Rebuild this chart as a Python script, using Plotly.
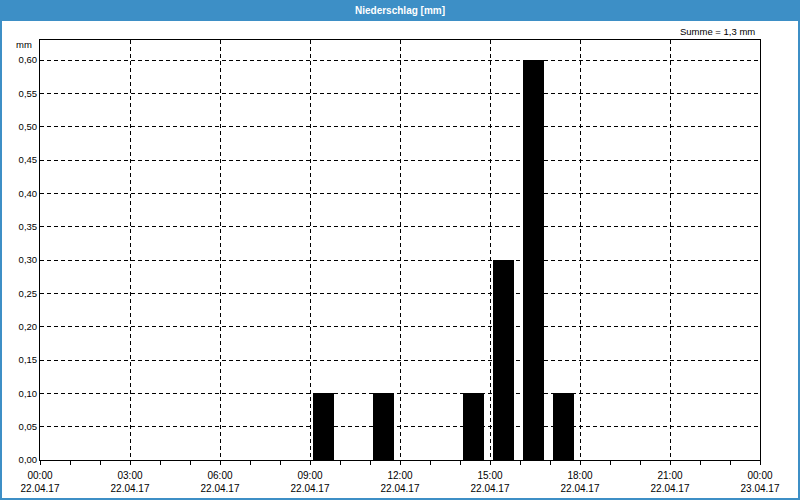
import plotly.graph_objects as go

# data
bar_start_times = ["2017-04-22 09:00", "2017-04-22 11:00", "2017-04-22 14:00",
                   "2017-04-22 15:00", "2017-04-22 16:00", "2017-04-22 17:00"]
precip_mm = [0.10, 0.10, 0.10, 0.30, 0.60, 0.10]
x_range = ["2017-04-22 00:00", "2017-04-23 00:00"]
y_range = [0, 0.63]
title_text = "Niederschlag [mm]"
y_unit = "mm"

H = 3600000  # one hour in ms
BLUE = "#3d8fc6"
FONT = "Liberation Sans"

W, HGT = 800, 500
L, R, T, B = 40, 40, 40, 40
pw, ph = W - L - R, HGT - T - B


def px(x):
    return (x - L) / pw


def py(y):
    return (HGT - B - y) / ph


total = sum(precip_mm)
sum_text = "Summe = " + f"{total:.1f}".replace(".", ",") + " mm"

fig = go.Figure()
fig.add_trace(go.Bar(
    x=bar_start_times, y=precip_mm,
    width=[0.7 * H] * len(precip_mm), offset=0.1 * H,
    marker=dict(color="black", line=dict(width=0)),
    hoverinfo="x+y",
))

fig.update_layout(
    width=W, height=HGT,
    margin=dict(l=L, r=R, t=T, b=B, pad=0, autoexpand=False),
    paper_bgcolor="white", plot_bgcolor="white",
    separators=",.",
    showlegend=False,
    bargap=0,
    font=dict(family=FONT, size=10, color="black"),
    xaxis=dict(
        type="date", range=x_range, dtick=3 * H, tick0=x_range[0],
        tickformat="%H:%M<br>%d.%m.%y",
        showgrid=True, gridcolor="black", griddash="4px,3px", gridwidth=1,
        showline=True, linecolor="black", linewidth=1, mirror=True,
        ticks="outside", ticklen=4, tickcolor="black", tickwidth=1,
        minor=dict(dtick=H, ticks="outside", ticklen=4, tickcolor="black", showgrid=False),
        zeroline=False, fixedrange=True, automargin=False,
        ticklabelstandoff=2,
        tickfont=dict(family=FONT, size=10, color="black"),
    ),
    yaxis=dict(
        range=y_range, dtick=0.05, tick0=0, tickformat=".2f",
        showgrid=True, gridcolor="black", griddash="4px,3px", gridwidth=1,
        showline=True, linecolor="black", linewidth=1, mirror=True,
        ticks="", zeroline=False, fixedrange=True, automargin=False,
        tickfont=dict(family=FONT, size=9.5, color="black"),
    ),
    shapes=[
        dict(type="rect", xref="paper", yref="paper",
             x0=px(0), x1=px(800), y0=py(21), y1=py(0),
             fillcolor=BLUE, line=dict(width=0), layer="above"),
        dict(type="rect", xref="paper", yref="paper",
             x0=px(1), x1=px(799), y0=py(499), y1=py(1),
             fillcolor="rgba(0,0,0,0)", line=dict(color=BLUE, width=2), layer="above"),
    ],
    annotations=[
        dict(text="<b>" + title_text + "</b>", xref="paper", yref="paper",
             x=px(400), y=py(10.5), xanchor="center", yanchor="middle",
             showarrow=False, font=dict(family=FONT, size=10, color="white")),
        dict(text=sum_text, xref="paper", yref="paper",
             x=px(757), y=py(31), xanchor="right", yanchor="middle",
             showarrow=False, font=dict(family=FONT, size=9.5, color="black")),
        dict(text=y_unit, xref="paper", yref="paper",
             x=px(34), y=py(45), xanchor="right", yanchor="middle",
             showarrow=False, font=dict(family=FONT, size=9.5, color="black")),
    ],
)

fig.write_html("out.html", config={"displayModeBar": False})
